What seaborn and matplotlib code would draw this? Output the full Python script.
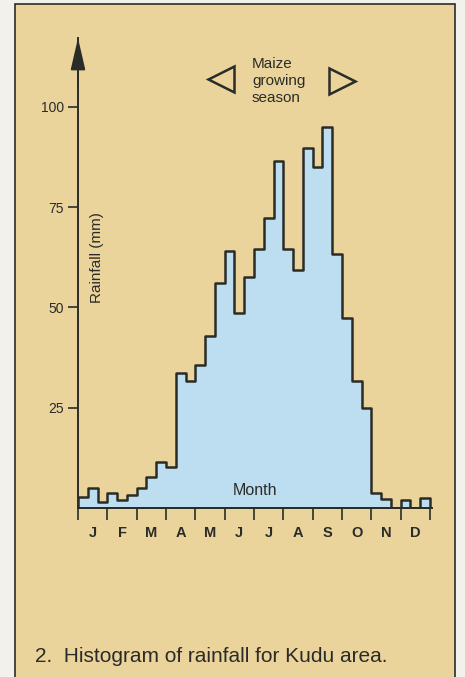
import matplotlib

matplotlib.use("Agg")
import matplotlib.pyplot as plt
import numpy as np
import pandas as pd
import seaborn as sns
from matplotlib.patches import Rectangle

# rainfall per ten-day period (dekad), mm, three per month
months = ["J", "F", "M", "A", "M", "J", "J", "A", "S", "O", "N", "D"]
rainfall_mm = [
    2.7, 5.0, 1.5,      # Jan
    3.7, 2.0, 3.2,      # Feb
    5.0, 7.7, 11.5,     # Mar
    10.2, 33.7, 31.7,   # Apr
    35.7, 43.0, 56.0,   # May
    64.0, 48.6, 57.6,   # Jun
    64.6, 72.3, 86.5,   # Jul
    64.6, 59.4, 89.8,   # Aug
    85.0, 95.0, 63.3,   # Sep
    47.4, 31.7, 25.0,   # Oct
    3.7, 2.2, 0.0,      # Nov
    2.0, 0.0, 2.5,      # Dec
]
y_ticks = [25, 50, 75, 100]

TAN = "#EBD49C"
BLUE = "#BDDDF0"
INK = "#2A2C28"

sns.set_style("white")
plt.rcParams["font.family"] = ["Liberation Sans", "DejaVu Sans"]

n_per_month = 3
n_bins = len(months) * n_per_month
df = pd.DataFrame({
    "month_pos": (np.arange(n_bins) + 0.5) / n_per_month,
    "rain": rainfall_mm,
})

W, H = 465, 677
fig = plt.figure(figsize=(W / 100, H / 100), dpi=100)
fig.patch.set_facecolor("#F3F1EC")
fig.patches.append(
    Rectangle((15 / W, -0.01), 440 / W, 1.01 - 4 / H, transform=fig.transFigure,
              facecolor=TAN, edgecolor=INK, linewidth=1.2, zorder=-1)
)

ax = fig.add_axes([78 / W, 169 / H, 353.5 / W, 470 / H])
ax.set_facecolor("none")

sns.histplot(
    data=df,
    x="month_pos",
    weights="rain",
    bins=n_bins,
    binrange=(0, len(months)),
    element="step",
    fill=True,
    color=BLUE,
    edgecolor=INK,
    linewidth=1.8,
    alpha=1,
    ax=ax,
)

ax.set_xlim(0, 12.05)
ax.set_ylim(0, 117.2)
ax.set_xlabel("")
ax.set_ylabel("")

for side in ["top", "right"]:
    ax.spines[side].set_visible(False)
for side in ["left", "bottom"]:
    ax.spines[side].set_color(INK)
    ax.spines[side].set_linewidth(1.4)

ax.set_yticks(y_ticks)
ax.set_yticklabels([str(v) for v in y_ticks])
ax.tick_params(axis="y", direction="out", length=7, width=1.2, pad=3,
               labelsize=10, colors=INK, left=True)

ax.set_xticks(np.arange(len(months) + 1))
ax.set_xticklabels([])
ax.set_xticks(np.arange(len(months)) + 0.5, minor=True)
ax.set_xticklabels(months, minor=True, fontsize=10.5, fontweight="bold", color=INK)
ax.tick_params(axis="x", which="major", direction="out", length=8.5, width=1.2,
               colors=INK, bottom=True)
ax.tick_params(axis="x", which="minor", length=0, pad=13, bottom=True)

# arrowhead on the y axis
ax.annotate("", xy=(0, 1), xycoords="axes fraction", xytext=(0, 0.9),
            arrowprops=dict(arrowstyle="-|>,head_length=1.3,head_width=0.3",
                            mutation_scale=15, color=INK, lw=1.4,
                            shrinkA=0, shrinkB=0), annotation_clip=False)

ax.text(0.055, 0.532, "Rainfall (mm)", transform=ax.transAxes, rotation=90,
        ha="center", va="center", fontsize=11, color=INK)
ax.text(0.5007, 0.038, "Month", transform=ax.transAxes, ha="center",
        va="center", fontsize=11.5, color=INK)

# maize growing season marker
ax.plot([0.4045], [0.913], marker="<", markersize=19, mfc="none", mec=INK,
        mew=1.8, transform=ax.transAxes, clip_on=False)
ax.plot([0.748], [0.9085], marker=">", markersize=19, mfc="none", mec=INK,
        mew=1.8, transform=ax.transAxes, clip_on=False)
ax.text(0.492, 0.959, "Maize\ngrowing\nseason", transform=ax.transAxes,
        ha="left", va="top", fontsize=11, linespacing=1.26, color=INK)

fig.text(35 / W, 1 - 657 / H, "2.  Histogram of rainfall for Kudu area.",
         ha="left", va="center", fontsize=15, color=INK)

fig.savefig("out.png", dpi=100, facecolor=fig.get_facecolor())
plt.close(fig)
